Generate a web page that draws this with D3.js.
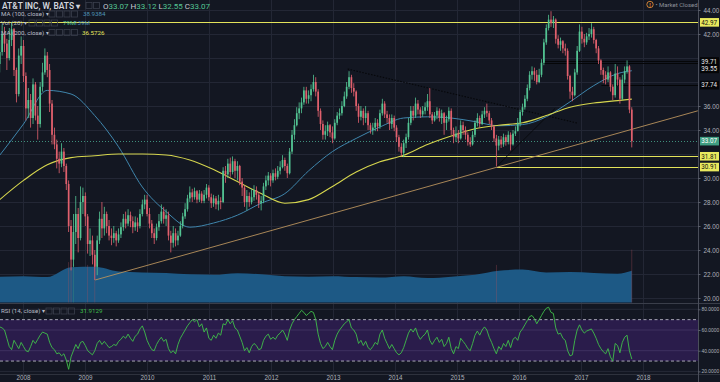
<!DOCTYPE html>
<html><head><meta charset="utf-8">
<script src="https://cdn.jsdelivr.net/npm/d3@7"></script>
<style>
html,body{margin:0;padding:0;background:#131722;}
svg{display:block;font-family:Roboto,"Liberation Sans",Arial,sans-serif;}
</style></head><body>
<svg id="c" width="720" height="382"></svg>
<script>
// ---- data (bi-weekly candles, starting 2007-08-17) ----
const startDate = new Date(2007, 7, 17);
const stepDays = 14;
const opens = [39.5,40.5,42.0,41.2,40.0,41.5,42.4,39.0,37.0,40.2,
41.0,38.5,35.8,36.5,35.0,37.8,35.2,34.5,37.6,38.8,
40.2,39.0,36.2,33.6,32.8,31.6,31.2,32.2,31.0,29.5,
26.0,23.2,25.5,27.0,25.0,28.0,28.5,26.8,24.5,24.8,
23.6,22.6,24.8,26.6,25.8,27.0,26.0,25.2,25.0,25.4,
24.8,25.3,25.9,26.6,26.2,26.9,26.4,25.9,26.3,26.0,
27.0,27.8,28.2,27.0,26.2,25.4,25.0,25.9,26.4,27.2,
26.6,26.9,25.2,24.6,25.4,24.8,25.2,26.0,26.8,27.4,
28.3,28.8,28.4,28.9,28.2,28.7,28.1,28.6,29.2,28.4,
27.9,28.3,27.8,28.1,28.0,30.6,30.3,31.2,30.5,31.4,
30.6,31.0,29.7,29.2,28.0,28.5,28.0,28.4,29.0,28.6,
27.9,28.1,29.3,29.8,30.2,29.8,30.4,30.1,30.6,30.9,
31.5,31.0,30.4,32.2,33.6,34.4,35.4,35.8,36.3,37.3,
36.6,36.9,37.4,38.0,37.2,35.6,34.5,33.6,33.9,34.4,
33.8,33.3,34.6,35.2,35.4,36.0,36.8,37.6,38.4,37.5,
37.2,36.0,35.1,35.6,35.0,35.4,34.4,34.0,34.2,34.6,
34.3,35.4,36.2,35.3,35.0,34.5,35.0,34.2,33.4,32.6,
32.1,32.9,33.4,34.6,35.6,35.2,36.2,35.7,35.3,35.6,
35.9,36.4,35.3,34.8,35.2,35.6,35.0,35.4,34.6,34.9,
35.6,34.0,33.4,33.7,33.3,34.4,34.0,33.6,33.0,32.8,
33.6,34.6,35.0,34.5,35.3,35.6,35.4,34.8,34.3,33.3,
32.7,33.2,32.8,33.4,33.0,33.6,32.8,33.7,33.9,34.6,
35.5,35.9,36.6,37.5,38.6,38.9,38.6,38.0,38.6,39.6,
41.3,42.5,43.2,42.9,43.2,41.6,41.1,41.4,40.8,40.6,
38.5,37.2,36.9,38.8,40.6,42.2,41.6,41.3,41.8,42.0,
42.4,41.5,40.8,39.8,39.0,38.6,38.2,38.8,37.6,36.9,
38.7,38.2,36.6,38.2,38.9,39.3,35.7];
const highs = [41.5,42.8,42.6,41.6,42.5,42.97,42.5,39.2,40.8,41.8,
41.5,38.8,37.5,37.0,38.3,38.0,36.0,38.0,39.6,40.8,
40.5,39.5,36.5,34.2,33.2,32.2,32.9,32.5,31.2,29.8,
26.5,27.0,28.5,27.5,29.3,29.2,28.8,27.0,25.8,25.2,
24.0,25.2,27.2,28.0,27.6,27.2,26.5,25.8,26.0,25.6,
25.8,26.3,27.0,27.2,27.4,27.2,26.8,26.8,26.7,27.4,
28.2,28.6,28.6,27.5,26.5,25.8,26.2,27.0,27.8,27.6,
27.4,27.2,25.6,26.0,25.8,25.6,26.4,27.1,27.9,28.6,
29.3,29.1,29.2,29.0,29.0,28.9,29.0,29.5,29.4,28.7,
28.6,28.5,28.6,28.4,30.9,31.0,31.6,31.7,31.8,31.6,
31.4,31.1,30.0,29.4,29.0,28.8,29.1,29.4,29.3,28.8,
28.5,29.6,30.2,30.5,30.4,30.7,30.8,31.0,31.4,31.9,
31.7,31.2,32.5,34.0,34.9,35.9,36.3,36.7,37.6,37.6,
37.3,37.8,38.6,38.4,37.4,35.8,34.8,34.4,34.7,34.5,
34.3,34.9,35.5,35.8,36.4,37.2,38.0,38.9,38.6,37.9,
37.3,36.2,36.0,35.8,36.0,35.6,34.6,34.6,35.0,34.9,
35.7,36.6,36.4,35.6,35.3,35.3,35.2,34.4,33.6,32.9,
33.2,33.7,35.0,36.0,36.0,36.7,36.5,35.9,36.0,36.3,
37.0,37.5,35.5,35.5,35.9,35.8,35.7,35.5,35.2,35.9,
35.8,34.2,34.3,34.0,34.8,34.7,34.3,33.8,33.4,33.9,
34.8,35.4,35.2,35.6,35.9,36.2,35.6,35.0,34.4,33.6,
33.5,33.5,33.7,33.6,33.9,33.8,34.0,34.3,35.0,35.7,
36.2,36.9,37.8,38.9,39.3,39.2,39.0,39.1,39.9,41.6,
42.8,43.6,43.9,43.5,43.3,41.9,41.7,41.5,41.2,40.8,
38.6,37.6,39.1,41.0,42.8,42.6,42.0,42.1,42.5,42.9,
42.6,41.6,41.0,39.9,39.2,38.9,39.3,38.9,37.8,39.5,
39.3,38.4,38.6,39.3,39.8,39.4,35.9];
const lows = [38.8,40.2,40.5,39.0,39.8,41.0,38.5,36.3,36.8,39.5,
38.0,34.8,35.0,34.2,34.5,34.8,33.2,34.2,37.2,38.6,
38.4,35.5,32.8,32.4,30.8,30.4,30.9,30.5,29.0,25.5,
22.3,22.6,24.5,23.8,24.8,27.0,26.0,23.7,23.5,22.8,
21.5,21.9,24.5,25.0,25.2,25.4,24.8,24.4,24.6,24.3,
24.6,25.0,25.6,25.8,26.0,25.9,25.4,25.6,25.5,25.8,
26.8,27.4,26.8,25.8,25.0,24.5,24.8,25.6,26.2,26.2,
26.0,24.8,23.8,24.2,24.3,24.4,25.1,25.8,26.6,27.2,
28.0,28.0,28.2,27.9,28.0,27.9,27.9,28.3,28.1,27.5,
27.6,27.4,27.3,27.4,27.9,29.6,30.0,30.1,30.3,30.0,
29.8,29.4,28.5,27.6,27.3,27.6,27.8,28.1,28.2,27.5,
27.3,27.9,29.0,29.4,29.3,29.6,29.8,29.9,30.3,30.8,
30.6,30.0,30.3,32.0,33.2,34.3,34.9,35.4,36.1,36.2,
36.2,36.4,37.2,36.8,35.1,34.0,33.2,33.2,33.5,33.4,
32.9,33.2,34.4,34.9,35.2,35.9,36.6,37.4,37.1,36.8,
35.6,34.6,34.8,34.4,34.6,34.0,33.7,33.6,33.9,33.9,
34.1,35.2,35.0,34.6,34.0,34.1,33.9,33.0,32.2,31.8,
31.74,32.5,33.2,34.4,34.8,35.0,35.3,35.0,35.1,35.3,
35.6,35.0,34.5,34.7,34.9,34.7,34.5,33.6,34.0,34.7,
33.6,32.9,33.0,32.9,33.2,33.6,33.2,32.7,32.6,32.7,
33.4,34.3,34.2,34.4,35.0,35.1,34.5,34.0,33.0,30.97,
32.3,32.5,32.6,32.7,32.8,32.3,32.7,33.5,33.9,34.3,
35.2,35.7,36.4,37.3,38.2,38.1,37.8,37.9,38.4,39.4,
41.1,42.3,42.6,42.5,41.2,40.8,40.6,40.4,40.2,38.2,
36.6,36.4,36.8,38.6,40.5,41.2,40.9,41.1,41.5,41.7,
41.2,40.4,39.5,38.6,37.9,37.8,38.0,37.2,36.5,36.7,
37.7,36.2,36.5,37.9,38.7,35.4,32.55];
const closes = [40.5,42.0,41.2,40.0,41.5,42.4,39.0,37.0,40.2,41.0,
38.5,35.8,36.5,35.0,37.8,35.2,34.5,37.6,38.8,40.2,
39.0,36.2,33.6,32.8,31.6,31.2,32.2,31.0,29.5,26.0,
23.2,25.5,27.0,25.0,28.0,28.5,26.8,24.5,24.8,23.6,
22.6,24.8,26.6,25.8,27.0,26.0,25.2,25.0,25.4,24.8,
25.3,25.9,26.6,26.2,26.9,26.4,25.9,26.3,26.0,27.0,
27.8,28.2,27.0,26.2,25.4,25.0,25.9,26.4,27.2,26.6,
26.9,25.2,24.6,25.4,24.8,25.2,26.0,26.8,27.4,28.3,
28.8,28.4,28.9,28.2,28.7,28.1,28.6,29.2,28.4,27.9,
28.3,27.8,28.1,28.0,30.6,30.3,31.2,30.5,31.4,30.6,
31.0,29.7,29.2,28.0,28.5,28.0,28.4,29.0,28.6,27.9,
28.1,29.3,29.8,30.2,29.8,30.4,30.1,30.6,30.9,31.5,
31.0,30.4,32.2,33.6,34.4,35.4,35.8,36.3,37.3,36.6,
36.9,37.4,38.0,37.2,35.6,34.5,33.6,33.9,34.4,33.8,
33.3,34.6,35.2,35.4,36.0,36.8,37.6,38.4,37.5,37.2,
36.0,35.1,35.6,35.0,35.4,34.4,34.0,34.2,34.6,34.3,
35.4,36.2,35.3,35.0,34.5,35.0,34.2,33.4,32.6,32.1,
32.9,33.4,34.6,35.6,35.2,36.2,35.7,35.3,35.6,35.9,
36.4,35.3,34.8,35.2,35.6,35.0,35.4,34.6,34.9,35.6,
34.0,33.4,33.7,33.3,34.4,34.0,33.6,33.0,32.8,33.6,
34.6,35.0,34.5,35.3,35.6,35.4,34.8,34.3,33.3,32.7,
33.2,32.8,33.4,33.0,33.6,32.8,33.7,33.9,34.6,35.5,
35.9,36.6,37.5,38.6,38.9,38.6,38.0,38.6,39.6,41.3,
42.5,43.2,42.9,43.2,41.6,41.1,41.4,40.8,40.6,38.5,
37.2,36.9,38.8,40.6,42.2,41.6,41.3,41.8,42.0,42.4,
41.5,40.8,39.8,39.0,38.6,38.2,38.8,37.6,36.9,38.7,
38.2,36.6,38.2,38.9,39.3,35.7,33.07];
// moving averages and volume read at every 10th candle (+ last)
const sampleIdx = [0,10,20,30,40,50,60,70,80,90,100,110,120,130,140,150,160,170,180,190,200,210,220,230,240,250,260,266];
const ma100 = [31.9,34.5,37.3,37.0,35.2,32.6,29.25,27.2,25.9,26.25,26.9,27.9,28.7,30.6,32.2,33.3,34.25,35.0,35.1,35.0,34.7,34.35,34.45,35.1,36.35,37.7,38.7,38.94];
const ma200 = [28.2,29.8,31.1,31.7,31.85,32.0,32.0,31.92,31.5,30.7,29.7,28.7,27.9,28.2,29.3,30.5,31.35,31.9,32.8,33.5,34.1,34.4,34.6,35.2,35.9,36.25,36.45,36.57];
const volume = [110,112,108,150,152,132,128,126,120,118,125,120,112,110,112,108,106,112,104,110,118,135,140,128,130,126,122,135];
// faint volume spikes standing above the blue area: candle index, volume (M)
const spikeIdx = [29,30,31,37,40,209,266];
const spikeVol = [172,182,165,160,165,160,225];
const rsi = [63,62,60,52,44,41,50,46,42,48,
44,40,39,44,50,47,51,55,58,57,
56,48,43,41,37,38,35,37,31,22,
34,40,46,42,48,49,45,40,38,36,
40,47,50,46,49,46,43,44,46,45,
49,51,54,52,56,52,49,54,56,61,
64,58,50,45,41,40,46,50,53,49,
51,42,38,40,37,46,52,56,60,64,
67,70,68,70,63,66,58,62,52,50,
55,52,57,55,66,65,70,66,69,62,
60,54,48,40,43,38,44,47,45,41,
42,50,54,56,51,53,51,55,57,60,
56,50,60,66,70,73,76,79,77,74,
76,78,77,70,56,47,42,44,48,44,
41,50,56,60,63,66,68,70,62,60,
56,47,50,45,49,43,41,44,48,46,
56,60,52,47,42,46,42,38,36,38,
43,50,57,61,58,62,55,51,54,56,
60,50,46,50,53,48,51,44,47,53,
42,37,44,42,52,49,46,42,40,47,
55,59,55,60,63,60,53,48,42,37,
44,41,47,44,50,43,51,53,50,58,
61,65,69,73,74,71,66,70,74,78,
81,82,77,76,62,56,57,52,50,40,
35,36,50,60,65,60,57,59,60,61,
57,52,46,42,39,37,42,34,30,47,
45,38,48,53,55,40,31.9];
const priceTicks = [44,42,40,38,36,34,32,30,28,26,24,22,20];
const rsiTicks = [80,60,40,20];
const yearTicks = ["2008","2009","2010","2011","2012","2013","2014","2015","2016","2017","2018"];
// horizontal levels and where they start
const levelPrices = [42.97, 39.71, 39.55, 37.74, 31.81, 30.91];
const levelStarts = ["2007-08-01","2016-05-20","2016-05-20","2017-05-01","2014-01-28","2015-08-24"];
const lastPrice = 33.07;
// trend lines: [date1, price1, date2, price2]
const trendUp = ["2009-03-01", 21.5, "2018-11-20", 35.6];
const trendDot = ["2013-03-28", 39.08, "2016-12-10", 34.58];
const trendDark = ["2015-08-24", 30.97, "2016-08-01", 35.8];

// ---- layout ----
const W = 720, H = 382, AX = 698;
const svg = d3.select("#c");
const dates = closes.map((_, i) => d3.timeDay.offset(startDate, i * stepDays));
const x = d3.scaleTime().domain([new Date(2008,0,1), new Date(2018,0,1)]).range([23, 643]);
const y = d3.scaleLinear().domain([20, 44]).range([298, 10]);
const yR = d3.scaleLinear().domain([20, 80]).range([371.4, 309.3]);
const yV = d3.scaleLinear().domain([0, 300]).range([302.5, 232]);
const pd = d3.timeParse("%Y-%m-%d");

svg.append("rect").attr("width", W).attr("height", H).attr("fill", "#131722");
const defs = svg.append("defs");
defs.append("clipPath").attr("id","cp").append("rect").attr("x",0).attr("y",0).attr("width",AX).attr("height",303);
defs.append("clipPath").attr("id","cr").append("rect").attr("x",0).attr("y",304).attr("width",AX).attr("height",70);

// grid
const grid = svg.append("g").attr("stroke", "#232735").attr("stroke-width", 1);
priceTicks.forEach(p => grid.append("line").attr("x1",0).attr("x2",AX).attr("y1",Math.round(y(p))+0.5).attr("y2",Math.round(y(p))+0.5));
yearTicks.forEach(t => { const xx = Math.round(x(new Date(+t,0,1)))+0.5;
  grid.append("line").attr("x1",xx).attr("x2",xx).attr("y1",0).attr("y2",374); });

// RSI band
const rg = svg.append("g");
rg.append("rect").attr("x",0).attr("width",AX).attr("y",yR(70)).attr("height",yR(30)-yR(70)).attr("fill","#2a1c4b");
rsiTicks.forEach(t => rg.append("line").attr("x1",0).attr("x2",AX).attr("y1",yR(t)).attr("y2",yR(t)).attr("stroke", t===60||t===40 ? "#3e3160" : "#262a37"));
[70,30].forEach(t => rg.append("line").attr("x1",0).attr("x2",AX).attr("y1",yR(t)).attr("y2",yR(t))
  .attr("stroke","#b4b6c2").attr("stroke-width",0.9).attr("stroke-dasharray","3,2.5"));

// price pane
const pp = svg.append("g").attr("clip-path","url(#cp)");
// volume
const volArea = d3.area().x(d => x(dates[d[0]])).y0(yV(0)).y1(d => yV(d[1])).curve(d3.curveMonotoneX);
pp.append("path").datum(sampleIdx.map((k, j) => [k, volume[j]])).attr("d", volArea).attr("fill", "#1d5985");
spikeIdx.forEach((k, j) => {
  const col = closes[k] >= opens[k] ? "#3f9e7c" : "#b0505c";
  pp.append("rect").attr("x", x(dates[k]) - 0.4).attr("width", 0.8).attr("y", yV(spikeVol[j]))
    .attr("height", yV(0) - yV(spikeVol[j])).attr("fill", col).attr("opacity", 0.4);
});

// levels
const levelColors = ["#e3e35a","#050608","#050608","#050608","#e3e35a","#e3e35a"];
levelPrices.forEach((p, j) => {
  pp.append("line").attr("x1", x(pd(levelStarts[j]))).attr("x2", AX)
    .attr("y1", Math.round(y(p))+0.5).attr("y2", Math.round(y(p))+0.5)
    .attr("stroke", levelColors[j]).attr("stroke-width", 1);
});
pp.append("line").attr("x1",0).attr("x2",AX).attr("y1",Math.round(y(lastPrice))+0.5).attr("y2",Math.round(y(lastPrice))+0.5)
  .attr("stroke","#3f8f7c").attr("stroke-dasharray","1,2");

// trend lines
function tl(t, col, dash, w){
  pp.append("line").attr("x1",x(pd(t[0]))).attr("y1",y(t[1])).attr("x2",x(pd(t[2]))).attr("y2",y(t[3]))
    .attr("stroke",col).attr("stroke-width",w).attr("stroke-dasharray",dash);
}
tl(trendUp, "#b8925c", null, 0.9);
tl(trendDot, "#06070a", "1.5,1.5", 1.1);
tl(trendDark, "#06070a", null, 0.8);

// MA lines
const maLine = d3.line().x(d => x(dates[d[0]])).y(d => y(d[1])).curve(d3.curveMonotoneX);
pp.append("path").datum(sampleIdx.map((k,j)=>[k, ma100[j]])).attr("d", maLine).attr("fill","none").attr("stroke","#3f86ad").attr("stroke-width",1);
pp.append("path").datum(sampleIdx.map((k,j)=>[k, ma200[j]])).attr("d", maLine).attr("fill","none").attr("stroke","#d6d64e").attr("stroke-width",1.1);

// candles
const up = "#53c493", dn = "#e0606d";
const cg = pp.append("g");
closes.forEach((c, i) => {
  const o = opens[i], h = Math.max(highs[i], o, c), l = Math.min(lows[i], o, c);
  const xx = x(dates[i]); const col = c >= o ? up : dn;
  cg.append("rect").attr("x", xx-0.4).attr("width",0.8).attr("y", y(h)).attr("height", Math.max(0.5, y(l)-y(h))).attr("fill", col);
  const top = y(Math.max(o,c)), bot = y(Math.min(o,c));
  cg.append("rect").attr("x", xx-0.85).attr("width",1.7).attr("y", top).attr("height", Math.max(0.8, bot-top)).attr("fill", col);
});

// RSI line
const rp = svg.append("g").attr("clip-path","url(#cr)");
rp.append("path").datum(rsi).attr("d", d3.line().x((d,i)=>x(dates[i])).y(d=>yR(d)))
  .attr("fill","none").attr("stroke","#3fbf4a").attr("stroke-width",0.9);

// separators
svg.append("line").attr("x1",0).attr("x2",W).attr("y1",303.5).attr("y2",303.5).attr("stroke","#3a3e4a");
svg.append("line").attr("x1",0).attr("x2",W).attr("y1",374.5).attr("y2",374.5).attr("stroke","#2e323d");
svg.append("line").attr("x1",AX+0.5).attr("x2",AX+0.5).attr("y1",0).attr("y2",H).attr("stroke","#4a4e5a");

// axes (tick labels hidden where a level label box covers them, as in the reference)
const boxYs = levelPrices.map(p => y(p)).concat([y(39.55)+5.5, y(lastPrice)]);
const shownTicks = priceTicks.filter(p => boxYs.every(b => Math.abs(b - y(p)) > 8));
const axStyle = (fs) => g => { g.select(".domain").remove();
  g.selectAll("text").attr("fill","#aeb1ba").style("font-size",fs);
  g.selectAll("line").attr("stroke","#5a5e6a"); };
svg.append("g").attr("transform",`translate(${AX},0)`)
  .call(d3.axisRight(y).tickValues(shownTicks).tickFormat(d3.format(".2f")).tickSize(2.5).tickPadding(3)).call(axStyle("6.3px"));
svg.append("g").attr("transform",`translate(${AX},0)`)
  .call(d3.axisRight(yR).tickValues(rsiTicks).tickFormat(d3.format(".4f")).tickSize(2.5).tickPadding(1)).call(axStyle("4.9px"));
svg.append("g").attr("transform","translate(0,372)")
  .call(d3.axisBottom(x).tickValues(yearTicks.map(t=>new Date(+t,0,1))).tickFormat(d3.timeFormat("%Y")).tickSize(0).tickPadding(4)).call(axStyle("6.3px"));

// level labels on axis
const lblBg = ["#e9e95e","#050608","#050608","#050608","#e9e95e","#e9e95e"];
const lblFg = ["#111","#e8e8e8","#e8e8e8","#e8e8e8","#111","#111"];
const lblShift = [0, 0, 5.5, 0, 0, 0];
function axLabel(p, bg, fg, dy){
  const yy = y(p) + dy;
  const g = svg.append("g");
  g.append("rect").attr("x",AX+2).attr("y",yy-4.3).attr("width",19).attr("height",8.6).attr("fill",bg);
  g.append("text").attr("x",AX+3.2).attr("y",yy+2.3).attr("fill",fg).style("font-size","6.3px").text(d3.format(".2f")(p));
}
levelPrices.forEach((p,j)=>axLabel(p, lblBg[j], lblFg[j], lblShift[j]));
axLabel(lastPrice, "#3f9e82", "#ffffff", 0);

// legends
const lg = svg.append("g");
const boxes = (x0, n, yy) => { for (let k=0;k<n;k++) lg.append("rect").attr("x",x0+k*7.5).attr("y",yy).attr("width",6).attr("height",6)
  .attr("fill","none").attr("stroke","#3a3f4c").attr("stroke-width",0.8); };
lg.append("text").attr("x",2).attr("y",8.5).attr("fill","#d1d4dc").style("font-size","8.4px").style("font-weight","600").text("AT&T INC, W, BATS ▾");
boxes(86, 2, 2.5);
const ohlc = lg.append("text").attr("x",103).attr("y",8.5).style("font-size","8px");
[["O","33.07"],["H","33.12"],["L","32.55"],["C","33.07"]].forEach(([k,v],j)=>{
  ohlc.append("tspan").attr("fill","#c8cbd2").text((j?" ":"")+k);
  ohlc.append("tspan").attr("fill","#53c493").text(v);
});
const row = (label, yy, x0, n) => { lg.append("text").attr("x",1).attr("y",yy).attr("fill","#b8bcc6").style("font-size","6.2px").text(label); boxes(x0, n, yy-5); };
row("MA (100, close) ▾", 16, 49, 4);
lg.append("text").attr("x",83).attr("y",16).attr("fill","#4f93b8").style("font-size","6.2px").text("38.9384");
row("Vol (20) ▾", 25, 29, 4);
lg.append("text").attr("x",63).attr("y",25).attr("fill","#53c493").style("font-size","6.2px").text("79M");
lg.append("text").attr("x",74).attr("y",25).attr("fill","#4f93b8").style("font-size","6.2px").text("139M");
row("MA (200, close) ▾", 34.5, 49, 4);
lg.append("text").attr("x",82).attr("y",34.5).attr("fill","#e6e65c").style("font-size","6.2px").text("36.5726");
row("RSI (14, close) ▾", 313, 46, 4);
lg.append("text").attr("x",80).attr("y",313).attr("fill","#3fbf4a").style("font-size","6.2px").text("31.9129");

// market closed
svg.append("circle").attr("cx",650).attr("cy",4.5).attr("r",3.2).attr("fill","none").attr("stroke","#e08a36").attr("stroke-width",0.9);
svg.append("text").attr("x",650).attr("y",6.6).attr("text-anchor","middle").attr("fill","#e08a36").style("font-size","5.5px").style("font-weight","700").text("!");
svg.append("text").attr("x",655.5).attr("y",6.8).attr("fill","#8e929c").style("font-size","6px").text("• Market Closed");
</script></body></html>
